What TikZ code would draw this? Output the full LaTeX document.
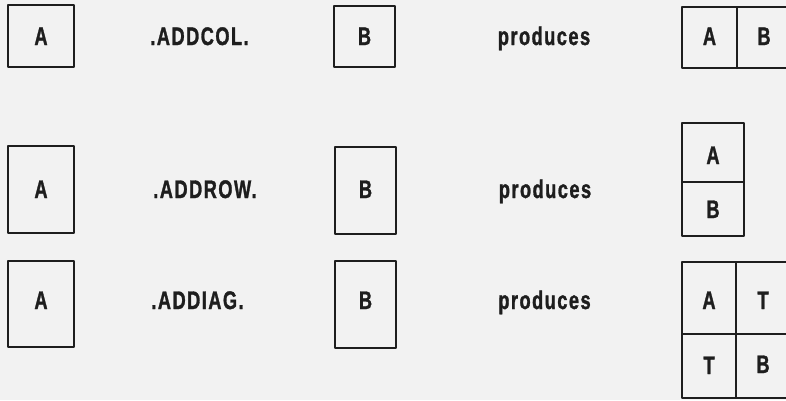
\documentclass[tikz,border=0pt]{standalone}
\usepackage{fontspec}
\usepackage{graphicx}
\newfontfamily\lblfont[LetterSpace=8,FakeBold=1.5]{Liberation Sans Bold}
\definecolor{bg}{HTML}{F2F2F2}
\definecolor{ink}{HTML}{1E1E1E}
\newcommand{\lbltext}[1]{\scalebox{0.76}[1.06]{\lblfont\fontsize{24}{27}\selectfont #1}}
\tikzset{
  boxline/.style={draw=ink, line width=2pt, line join=round},
  lbl/.style={anchor=base, inner sep=0pt, text=ink},
}
\begin{document}
\begin{tikzpicture}[x=1pt,y=-1pt]
\useasboundingbox (0,0) rectangle (786,400);
\fill[bg] (0,0) rectangle (786,400);
\clip (0,0) rectangle (786,400);
% Row 1
\draw[boxline] (8,5) rectangle (74,67);
\draw[boxline] (334,6) rectangle (395,67);
\draw[boxline] (682,7) rectangle (800,68);
\draw[boxline] (737,7) -- (737,68);
\node[lbl] (a1) at (41,45) {\lbltext{A}};
\node[lbl] (op1) at (199.5,45) {\lbltext{.ADDCOL.}};
\node[lbl] (b1) at (364.5,45) {\lbltext{B}};
\node[lbl] (p1) at (544,45) {\lbltext{produces}};
\node[lbl] (r1a) at (709.5,45) {\lbltext{A}};
\node[lbl] (r1b) at (764,45) {\lbltext{B}};
% Row 2
\draw[boxline] (8,146) rectangle (74,233);
\draw[boxline] (335,147) rectangle (396,234);
\draw[boxline] (682,123) rectangle (744,236);
\draw[boxline] (682,182) -- (744,182);
\node[lbl] (a2) at (41,198) {\lbltext{A}};
\node[lbl] (op2) at (205,198) {\lbltext{.ADDROW.}};
\node[lbl] (b2) at (365.5,198) {\lbltext{B}};
\node[lbl] (p2) at (545,198) {\lbltext{produces}};
\node[lbl] (r2a) at (713,164) {\lbltext{A}};
\node[lbl] (r2b) at (713,218) {\lbltext{B}};
% Row 3
\draw[boxline] (8,261) rectangle (74,347);
\draw[boxline] (335,261) rectangle (396,348);
\draw[boxline] (682,262) rectangle (800,398);
\draw[boxline] (736,262) -- (736,398);
\draw[boxline] (682,334) -- (800,334);
\node[lbl] (a3) at (41,309) {\lbltext{A}};
\node[lbl] (op3) at (197.5,309) {\lbltext{.ADDIAG.}};
\node[lbl] (b3) at (365.5,309) {\lbltext{B}};
\node[lbl] (p3) at (544.5,309) {\lbltext{produces}};
\node[lbl] (r3a) at (709,309) {\lbltext{A}};
\node[lbl] (r3t1) at (763,309) {\lbltext{T}};
\node[lbl] (r3t2) at (709,374) {\lbltext{T}};
\node[lbl] (r3b) at (763,373) {\lbltext{B}};
\end{tikzpicture}
\end{document}
